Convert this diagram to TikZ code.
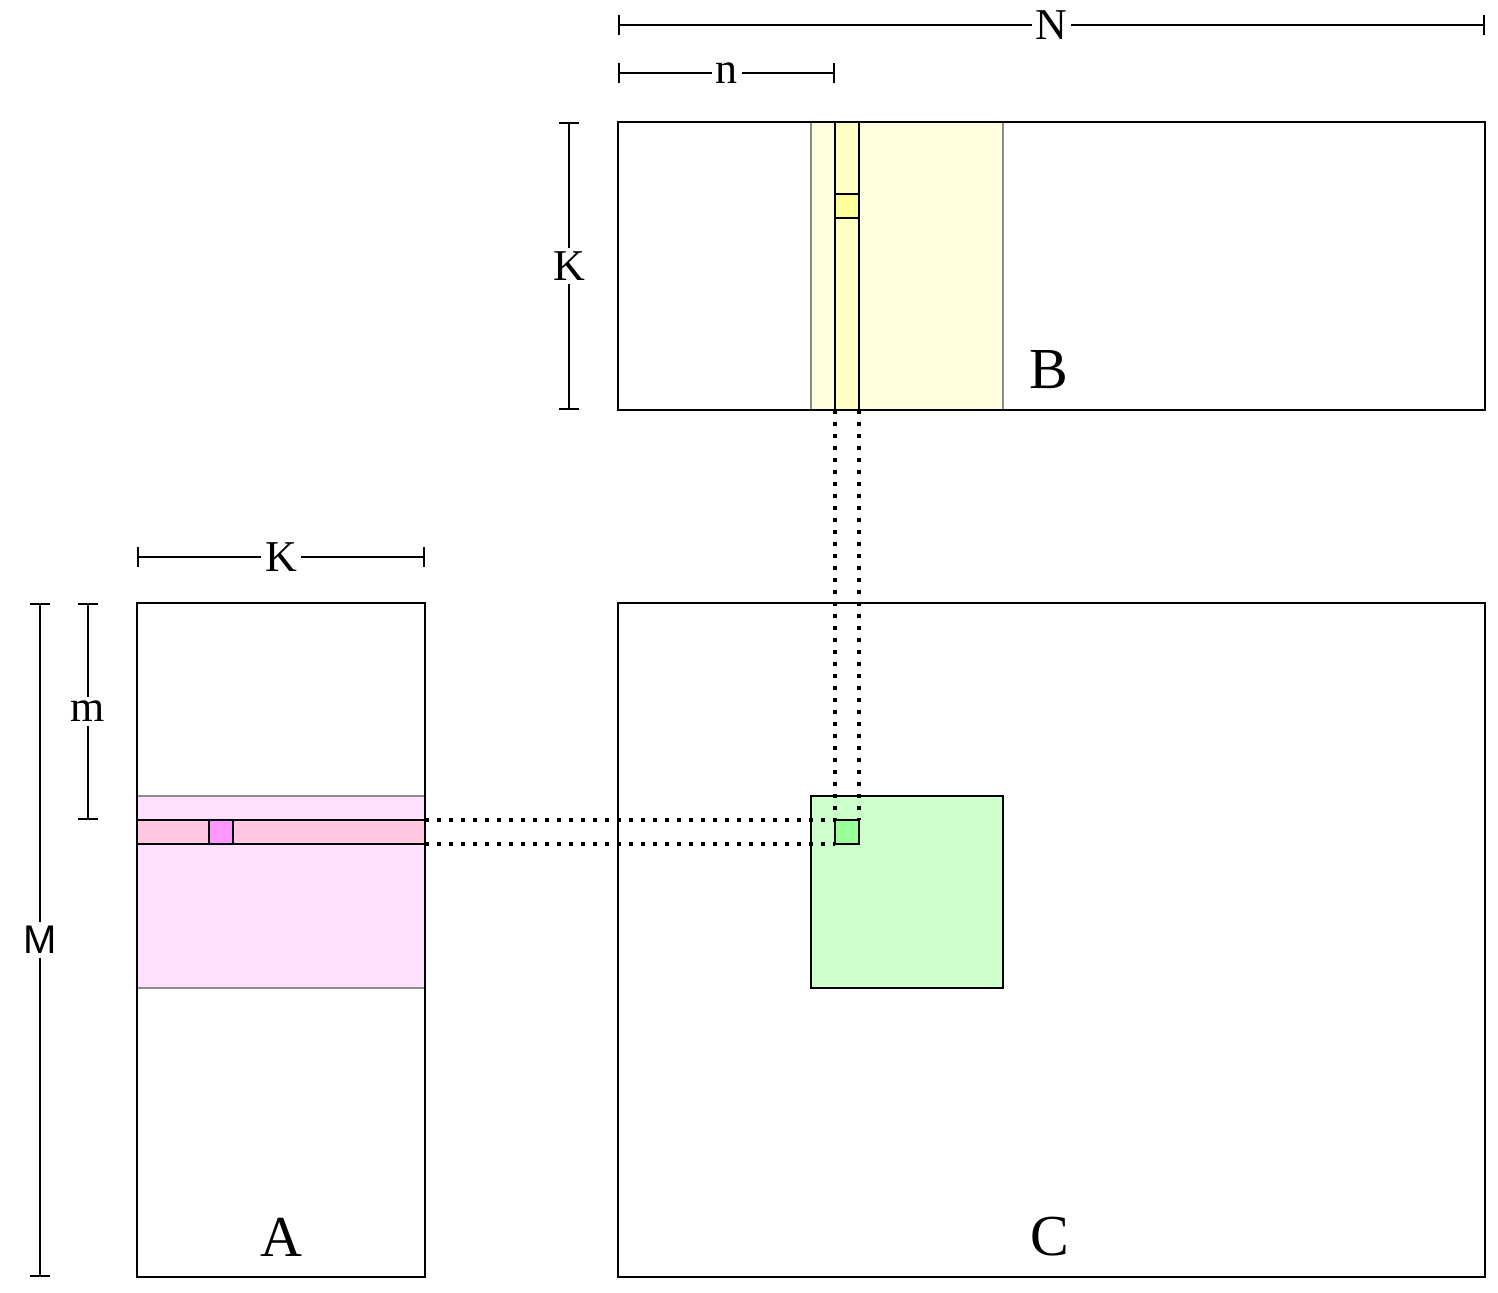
\documentclass[tikz,border=0pt]{standalone}
\usepackage{fontspec}
\setmainfont{Liberation Serif}
\newfontfamily\labelsans{Liberation Sans}
\usetikzlibrary{arrows.meta}
\definecolor{BandYellow}{HTML}{FFFFE0}
\definecolor{StripYellow}{HTML}{FFFFC4}
\definecolor{TileYellow}{HTML}{FFFF99}
\definecolor{BandPink}{HTML}{FFE0FF}
\definecolor{StripPink}{HTML}{FFC8E0}
\definecolor{TileMagenta}{HTML}{FF99FF}
\definecolor{BlockGreen}{HTML}{CCFFCC}
\definecolor{TileGreen}{HTML}{99FF99}
\definecolor{gray}{HTML}{8C8C8C}
\tikzset{
  mat/.style={draw=black, line width=1.3pt},
  band/.style={draw=gray, line width=1.2pt},
  dim/.style={line width=1.1pt, {Bar[width=10pt]}-{Bar[width=10pt]}},
  dimlabel/.style={fill=white, inner sep=2pt, font=\fontsize{22}{22}\selectfont},
  bigname/.style={font=\fontsize{29}{29}\selectfont},
  guide/.style={line width=2pt, dash pattern=on 2pt off 4pt},
}

\begin{document}
\begin{tikzpicture}[x=0.5pt, y=-0.5pt]
\useasboundingbox (0,0) rectangle (1498,1292);

% corners of the three matrices
\coordinate (A-nw) at (137,603);  \coordinate (A-se) at (425,1277);
\coordinate (B-nw) at (618,122);  \coordinate (B-se) at (1485,410);
\coordinate (C-nw) at (618,603);  \coordinate (C-se) at (1485,1277);

% tiles
\coordinate (rowA-nw) at (137,820);  \coordinate (rowA-se) at (425,844);
\coordinate (colB-nw) at (835,122);  \coordinate (colB-se) at (859,410);
\coordinate (tileC-nw) at (835,820); \coordinate (tileC-se) at (859,844);

% matrices
\draw[mat, fill=white] (A-nw) rectangle (A-se);
\draw[mat, fill=white] (B-nw) rectangle (B-se);
\draw[mat, fill=white] (C-nw) rectangle (C-se);

% bands
\draw[band, fill=BandPink] (137,796) rectangle (425,988);
\draw[band, fill=BandYellow] (811,122) rectangle (1003,410);
\draw[mat, fill=BlockGreen] (811,796) rectangle (1003,988);
\draw[mat] (A-nw) rectangle (A-se);
\draw[mat] (B-nw) rectangle (B-se);

% strips and small tiles
\draw[mat, fill=StripPink] (rowA-nw) rectangle (rowA-se);
\draw[mat, fill=TileMagenta] (209,820) rectangle (233,844);
\draw[mat, fill=StripYellow] (colB-nw) rectangle (colB-se);
\draw[mat, fill=TileYellow] (835,194) rectangle (859,218);
\draw[mat, fill=TileGreen] (tileC-nw) rectangle (tileC-se);

% dotted guides
\draw[guide] (rowA-se |- rowA-nw) -- (tileC-nw);
\draw[guide] (rowA-se) -- (tileC-nw |- tileC-se);
\draw[guide] (colB-nw |- colB-se) -- (tileC-nw);
\draw[guide] (colB-se) -- (tileC-se |- tileC-nw);

% dimensions
\draw[dim] (618,25) -- node[dimlabel] (lblN) {N} (1485,25);
\draw[dim] (618,73) -- node[dimlabel] (lbln) {n} (835,73);
\draw[dim] (569,122) -- node[dimlabel] (lblKB) {K} (569,410);
\draw[dim] (137,557) -- node[dimlabel] (lblKA) {K} (425,557);
\draw[dim] (40,603) -- node[dimlabel, font=\labelsans\fontsize{20}{20}\selectfont] (lblM) {M} (40,1277);
\draw[dim] (88,603) -- node[dimlabel] (lblm) {m} (88,820);

% matrix names
\node[bigname] (nameA) at (281,1237) {A};
\node[bigname] (nameB) at (1049,370) {B};
\node[bigname] (nameC) at (1050,1237) {C};
\end{tikzpicture}
\end{document}
